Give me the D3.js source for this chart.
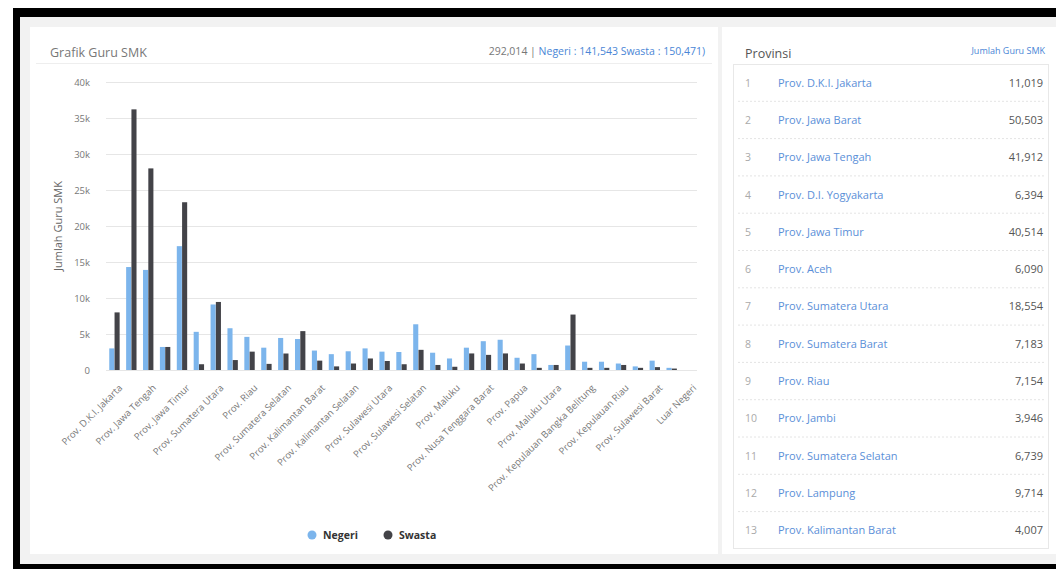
<!DOCTYPE html>
<html>
<head>
<meta charset="utf-8">
<script src="https://cdn.jsdelivr.net/npm/d3@7"></script>
<style>
  body { margin: 0; background: #fff; font-family: "Open Sans", sans-serif; }
  #canvas { width: 1056px; height: 569px; }
</style>
</head>
<body>
<div id="canvas"></div>
<script>
// ---------------- data ----------------
const provinces = ['Prov. D.K.I. Jakarta', 'Prov. Jawa Barat', 'Prov. Jawa Tengah', 'Prov. D.I. Yogyakarta', 'Prov. Jawa Timur',
  'Prov. Aceh', 'Prov. Sumatera Utara', 'Prov. Sumatera Barat', 'Prov. Riau', 'Prov. Jambi', 'Prov. Sumatera Selatan',
  'Prov. Lampung', 'Prov. Kalimantan Barat', 'Prov. Kalimantan Tengah', 'Prov. Kalimantan Selatan', 'Prov. Kalimantan Timur',
  'Prov. Sulawesi Utara', 'Prov. Sulawesi Tengah', 'Prov. Sulawesi Selatan', 'Prov. Sulawesi Tenggara', 'Prov. Maluku',
  'Prov. Bali', 'Prov. Nusa Tenggara Barat', 'Prov. Nusa Tenggara Timur', 'Prov. Papua', 'Prov. Bengkulu',
  'Prov. Maluku Utara', 'Prov. Banten', 'Prov. Kepulauan Bangka Belitung', 'Prov. Gorontalo', 'Prov. Kepulauan Riau',
  'Prov. Papua Barat', 'Prov. Sulawesi Barat', 'Prov. Kalimantan Utara', 'Luar Negeri'];
const negeri = [3000, 14300, 13900, 3200, 17200, 5300, 9100, 5800, 4600, 3100, 4450, 4300, 2700, 2200, 2600, 3000,
  2550, 2500, 6350, 2400, 1600, 3100, 4000, 4200, 1700, 2200, 700, 3400, 1150, 1150, 900, 500, 1300, 300, 0];
const swasta = [8000, 36200, 28000, 3200, 23300, 800, 9450, 1380, 2550, 850, 2290, 5400, 1300, 500, 900, 1600,
  1250, 800, 2800, 700, 450, 2300, 2100, 2300, 900, 300, 700, 7700, 300, 300, 700, 300, 400, 200, 0];
const yTicks = [0, 5000, 10000, 15000, 20000, 25000, 30000, 35000, 40000];
const seriesNames = ['Negeri', 'Swasta'];
const seriesColors = ['#7cb5ec', '#434348'];
const totalAll = 292014, totalNegeri = 141543, totalSwasta = 150471;

const tableNames = provinces.slice(0, 13);
const tableTotals = [11019, 50503, 41912, 6394, 40514, 6090, 18554, 7183, 7154, 3946, 6739, 9714, 4007];

// ---------------- page frame ----------------
const width = 1056, height = 569;
const fmt = d3.format(',');
const svg = d3.select('#canvas').append('svg')
  .attr('width', width).attr('height', height)
  .attr('viewBox', [0, 0, width, height])
  .attr('font-family', '"Open Sans", sans-serif');

svg.append('rect').attr('x', 13).attr('y', 8).attr('width', width - 13).attr('height', height - 8).attr('fill', '#000');
svg.append('rect').attr('x', 20).attr('y', 17).attr('width', width - 20).attr('height', 547).attr('fill', '#f2f2f2');
svg.append('rect').attr('x', 30).attr('y', 27).attr('width', 688).attr('height', 527).attr('fill', '#fff');
svg.append('rect').attr('x', 722).attr('y', 27).attr('width', width - 722).attr('height', 527).attr('fill', '#fff');

// ---------------- chart header ----------------
svg.append('text').attr('x', 50).attr('y', 57)
  .attr('font-size', 12.5).attr('fill', '#777').text('Grafik Guru SMK');

const head = svg.append('text').attr('x', 705).attr('y', 55)
  .attr('text-anchor', 'end').attr('font-size', 10.5);
head.append('tspan').attr('fill', '#777').text(fmt(totalAll) + ' | ');
head.append('tspan').attr('fill', '#4a86d6')
  .text('Negeri : ' + fmt(totalNegeri) + ' Swasta : ' + fmt(totalSwasta) + ')');

svg.append('line').attr('x1', 36).attr('x2', 712).attr('y1', 63.5).attr('y2', 63.5)
  .attr('stroke', '#eee');

// ---------------- bar chart ----------------
const margin = { top: 82, bottom: 199, left: 106, right: 359 };
const xScale = d3.scaleBand().domain(provinces)
  .range([margin.left, width - margin.right]).paddingInner(0.36).paddingOuter(0.18);
const xInner = d3.scaleBand().domain(seriesNames).range([0, xScale.bandwidth()]).padding(0.04);
const yScale = d3.scaleLinear().domain([0, 40000]).range([height - margin.bottom, margin.top]);

const yAxisG = svg.append('g').attr('transform', `translate(${margin.left},0)`)
  .call(d3.axisLeft(yScale).tickValues(yTicks)
    .tickSize(-(width - margin.left - margin.right))
    .tickFormat(d => d === 0 ? '0' : (d / 1000) + 'k'));
yAxisG.select('.domain').remove();
yAxisG.selectAll('.tick line').attr('stroke', '#e6e6e6');
yAxisG.selectAll('.tick text').attr('x', -16).attr('fill', '#777')
  .attr('font-size', 9.5).attr('font-family', '"Open Sans", sans-serif');

svg.append('text')
  .attr('transform', `translate(62,${(margin.top + height - margin.bottom) / 2}) rotate(-90)`)
  .attr('text-anchor', 'middle').attr('font-size', 11).attr('fill', '#666')
  .text('Jumlah Guru SMK');

const barG = svg.append('g');
seriesNames.forEach((s, si) => {
  const vals = si === 0 ? negeri : swasta;
  barG.selectAll('.bar' + si)
    .data(provinces)
    .enter()
    .append('rect')
    .attr('class', 'bar' + si)
    .attr('fill', seriesColors[si])
    .attr('x', d => xScale(d) + xInner(s))
    .attr('width', xInner.bandwidth())
    .attr('y', (d, i) => yScale(vals[i]))
    .attr('height', (d, i) => yScale(0) - yScale(vals[i]));
});

const xAxisG = svg.append('g').attr('transform', `translate(0,${height - margin.bottom})`)
  .call(d3.axisBottom(xScale).tickSize(0).tickFormat((d, i) => i % 2 === 0 ? d : ''));
xAxisG.select('.domain').remove();
xAxisG.selectAll('.tick text')
  .attr('fill', '#777').attr('font-size', 9.5).attr('font-family', '"Open Sans", sans-serif')
  .attr('text-anchor', 'end')
  .attr('transform', 'translate(4,14) rotate(-45)')
  .attr('dy', '0.35em');

// legend
const legend = svg.append('g').attr('transform', 'translate(312,535)');
seriesNames.forEach((s, i) => {
  const lg = legend.append('g').attr('transform', `translate(${i * 76},0)`);
  lg.append('circle').attr('r', 4.5).attr('fill', seriesColors[i]);
  lg.append('text').attr('x', 11).attr('dy', '0.35em')
    .attr('font-size', 10.5).attr('font-weight', 'bold').attr('fill', '#333').text(s);
});

// ---------------- province table ----------------
svg.append('text').attr('x', 745).attr('y', 58).attr('font-size', 12.5).attr('fill', '#555').text('Provinsi');
svg.append('text').attr('x', 1045).attr('y', 54).attr('text-anchor', 'end')
  .attr('font-size', 9).attr('fill', '#4a86d6').text('Jumlah Guru SMK');

const tTop = 64, rowH = 37.3;
svg.append('rect').attr('x', 733.5).attr('y', tTop + 0.5).attr('width', 315).attr('height', 484)
  .attr('fill', 'none').attr('stroke', '#e8e8e8');

const rowScale = d3.scaleBand().domain(d3.range(tableNames.length))
  .range([tTop, tTop + rowH * tableNames.length]);
const rows = svg.append('g').selectAll('g').data(tableNames).enter().append('g')
  .attr('transform', (d, i) => `translate(0,${rowScale(i)})`);
rows.filter((d, i) => i > 0).append('line')
  .attr('x1', 738).attr('x2', 1044).attr('y1', 0).attr('y2', 0)
  .attr('stroke', '#e4e4e4').attr('stroke-dasharray', '2,2');
rows.append('text').attr('x', 745).attr('y', rowH / 2 + 4)
  .attr('font-size', 10.5).attr('fill', '#aaa').text((d, i) => i + 1);
rows.append('text').attr('x', 778).attr('y', rowH / 2 + 4)
  .attr('font-size', 11).attr('fill', '#5b8fd8').text(d => d);
rows.append('text').attr('x', 1043).attr('y', rowH / 2 + 4).attr('text-anchor', 'end')
  .attr('font-size', 11).attr('fill', '#555').text((d, i) => fmt(tableTotals[i]));
</script>
</body>
</html>
